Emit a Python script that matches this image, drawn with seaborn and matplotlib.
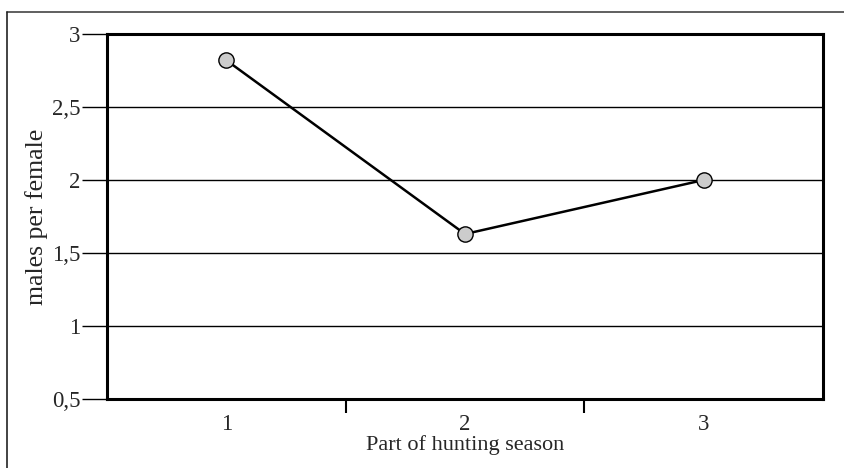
import matplotlib
matplotlib.use("Agg")
import matplotlib.pyplot as plt
from matplotlib.lines import Line2D
import seaborn as sns
import pandas as pd

parts = [1, 2, 3]
males_per_female = [2.82, 1.63, 2.0]
y_ticks = [0.5, 1.0, 1.5, 2.0, 2.5, 3.0]
y_tick_labels = ["0,5", "1", "1,5", "2", "2,5", "3"]
x_ticks = [1, 2, 3]
x_tick_labels = ["1", "2", "3"]

sns.set_style("white")
plt.rcParams["font.family"] = ["Liberation Serif", "DejaVu Serif"]

df = pd.DataFrame({"part": parts, "mpf": males_per_female})

fig = plt.figure(figsize=(8.45, 4.68), dpi=100)
ax = fig.add_axes([107/845, 1 - 399/468, (823 - 107)/845, (399 - 34)/468])

for yv in y_ticks[1:-1]:
    ax.axhline(yv, color="black", lw=1.0, zorder=1)

sns.lineplot(data=df, x="part", y="mpf", ax=ax, color="black", lw=1.8,
             marker="o", markersize=11, markerfacecolor="#cccccc",
             markeredgecolor="black", markeredgewidth=1.0, zorder=3)

ax.set_xlim(0.5, 3.5)
ax.set_ylim(0.5, 3.0)
ax.set_yticks(y_ticks)
ax.set_yticklabels(y_tick_labels, fontsize=16.5)
ax.set_xticks(x_ticks)
ax.set_xticklabels(x_tick_labels, fontsize=16.5)
ax.set_xticks([1.5, 2.5], minor=True)
ax.tick_params(axis="x", which="major", length=0, pad=11)
ax.tick_params(axis="x", which="minor", length=10, width=1.5, direction="out", color="black", bottom=True)
ax.tick_params(axis="y", which="major", length=18, width=1.0, direction="out", color="black", left=True, pad=1)

for s in ax.spines.values():
    s.set_visible(True)
    s.set_color("black")
    s.set_linewidth(2.2)

ax.set_xlabel("Part of hunting season", fontsize=16, labelpad=0)
ax.set_ylabel("males per female", fontsize=18.5, labelpad=3)

# outer frame (top and left lines)
fig.add_artist(Line2D([7/845, 1.0], [1 - 12/468, 1 - 12/468], transform=fig.transFigure, color="#444444", lw=1.2))
fig.add_artist(Line2D([7/845, 7/845], [0.0, 1 - 12/468], transform=fig.transFigure, color="#222222", lw=1.2))

fig.savefig("out.png", dpi=100)
